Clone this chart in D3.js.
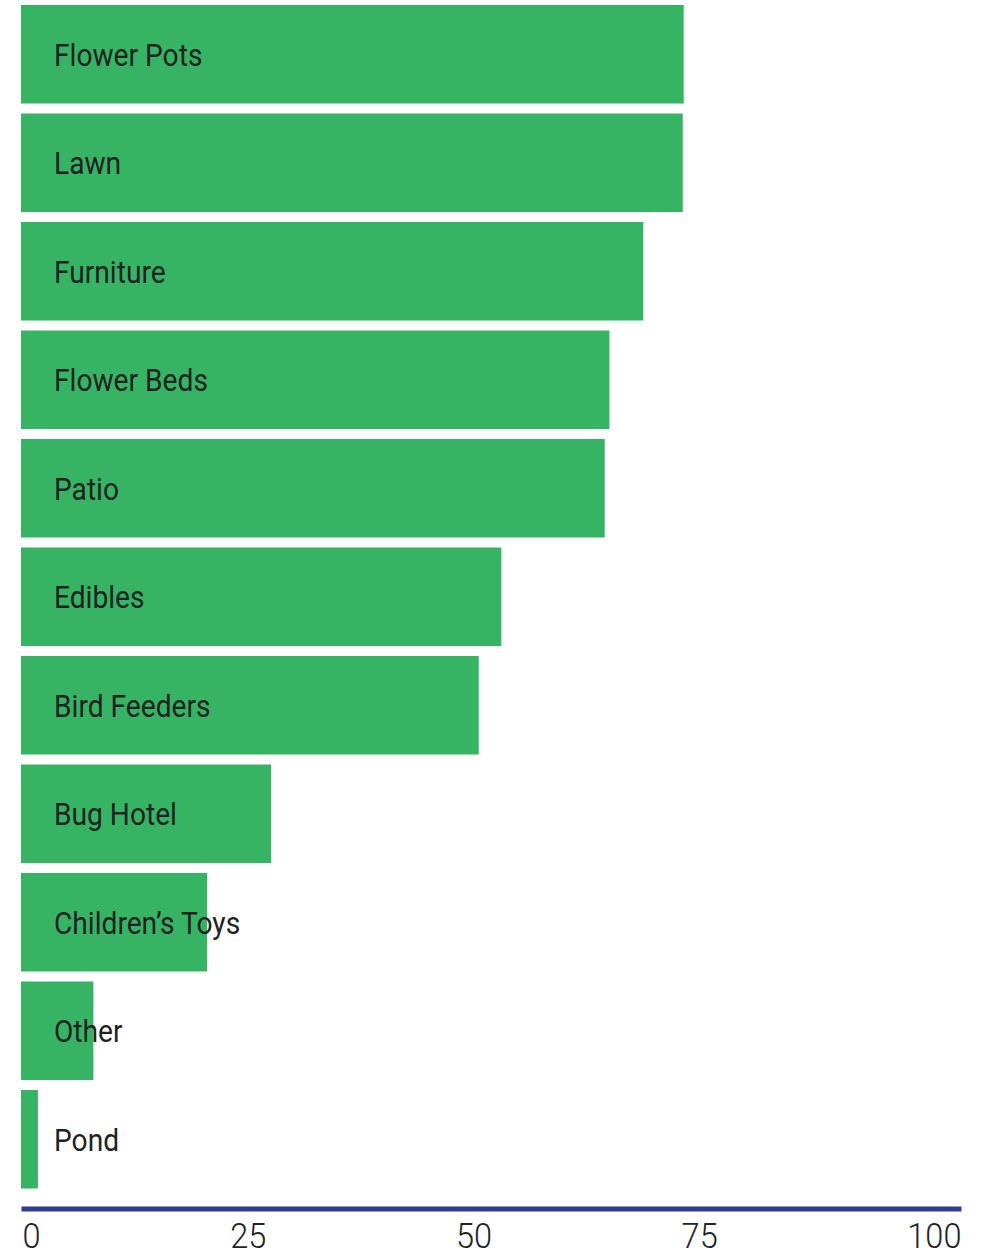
<!DOCTYPE html>
<html>
<head>
<meta charset="utf-8">
<script src="https://cdn.jsdelivr.net/npm/d3@7"></script>
<style>
  body { margin: 0; background: #fff; }
  svg { display: block; }
</style>
</head>
<body>
<div id="chart"></div>
<script>
var categories = ['Flower Pots', 'Lawn', 'Furniture', 'Flower Beds', 'Patio', 'Edibles',
                  'Bird Feeders', 'Bug Hotel', 'Children\u2019s Toys', 'Other', 'Pond'];
var values = [70.5, 70.4, 66.2, 62.6, 62.1, 51.1, 48.7, 26.6, 19.8, 7.7, 1.8];
var tickValues = [0, 25, 50, 75, 100];

var col_green = '#36b463';
var col_blue = '#2a3f91';
var col_text = '#222222';

var width = 982;
var height = 1253;
var left = 21;
var right = 961;

var svg = d3.select('#chart').append('svg')
    .attr('width', width)
    .attr('height', height);

var x = d3.scaleLinear()
    .domain([0, 100])
    .range([left, right]);

var y = d3.scaleBand()
    .domain(categories)
    .range([5, 1188.5])
    .paddingInner(0.092)
    .paddingOuter(0);

var rows = svg.append('g').selectAll('g')
    .data(categories)
    .enter().append('g');

rows.append('rect')
    .attr('x', x(0))
    .attr('y', function(d) { return y(d); })
    .attr('width', function(d, i) { return x(values[i]) - x(0); })
    .attr('height', y.bandwidth())
    .attr('fill', col_green);

// labels sit inside the bars, condensed look via horizontal squeeze
rows.append('text')
    .attr('transform', function(d) {
        return 'translate(54,' + (y(d) + y.bandwidth() / 2 + 11.5) + ') scale(0.88,1)';
    })
    .style('font-family', 'Roboto, sans-serif')
    .style('font-size', '32px')
    .style('fill', col_text)
    .text(function(d) { return d; });

// axis line
var axis = svg.append('g')
    .attr('transform', 'translate(0,1208.5)')
    .call(d3.axisBottom(x).tickValues(tickValues).tickSize(0).tickPadding(0));

axis.select('.domain')
    .attr('stroke', col_blue)
    .attr('stroke-width', 5);

var ticks = axis.selectAll('.tick text')
    .attr('y', 0)
    .attr('dy', 0)
    .style('font-family', 'Roboto, sans-serif')
    .style('font-weight', 300)
    .style('font-size', '35px')
    .style('fill', col_text)
    .attr('text-anchor', 'start');

// labels spread edge to edge like a space-between row
var sq = 0.93;
var widths = [];
ticks.each(function() { widths.push(this.getComputedTextLength() * sq); });
var total = d3.sum(widths);
var gap = (right - left - 1 - total) / (widths.length - 1);
var pos = left + 1;
ticks.each(function(d, i) {
    var tickX = x(d);
    d3.select(this).attr('transform', 'translate(' + (pos - tickX) + ',39) scale(' + sq + ',1)');
    pos += widths[i] + gap;
});
</script>
</body>
</html>
